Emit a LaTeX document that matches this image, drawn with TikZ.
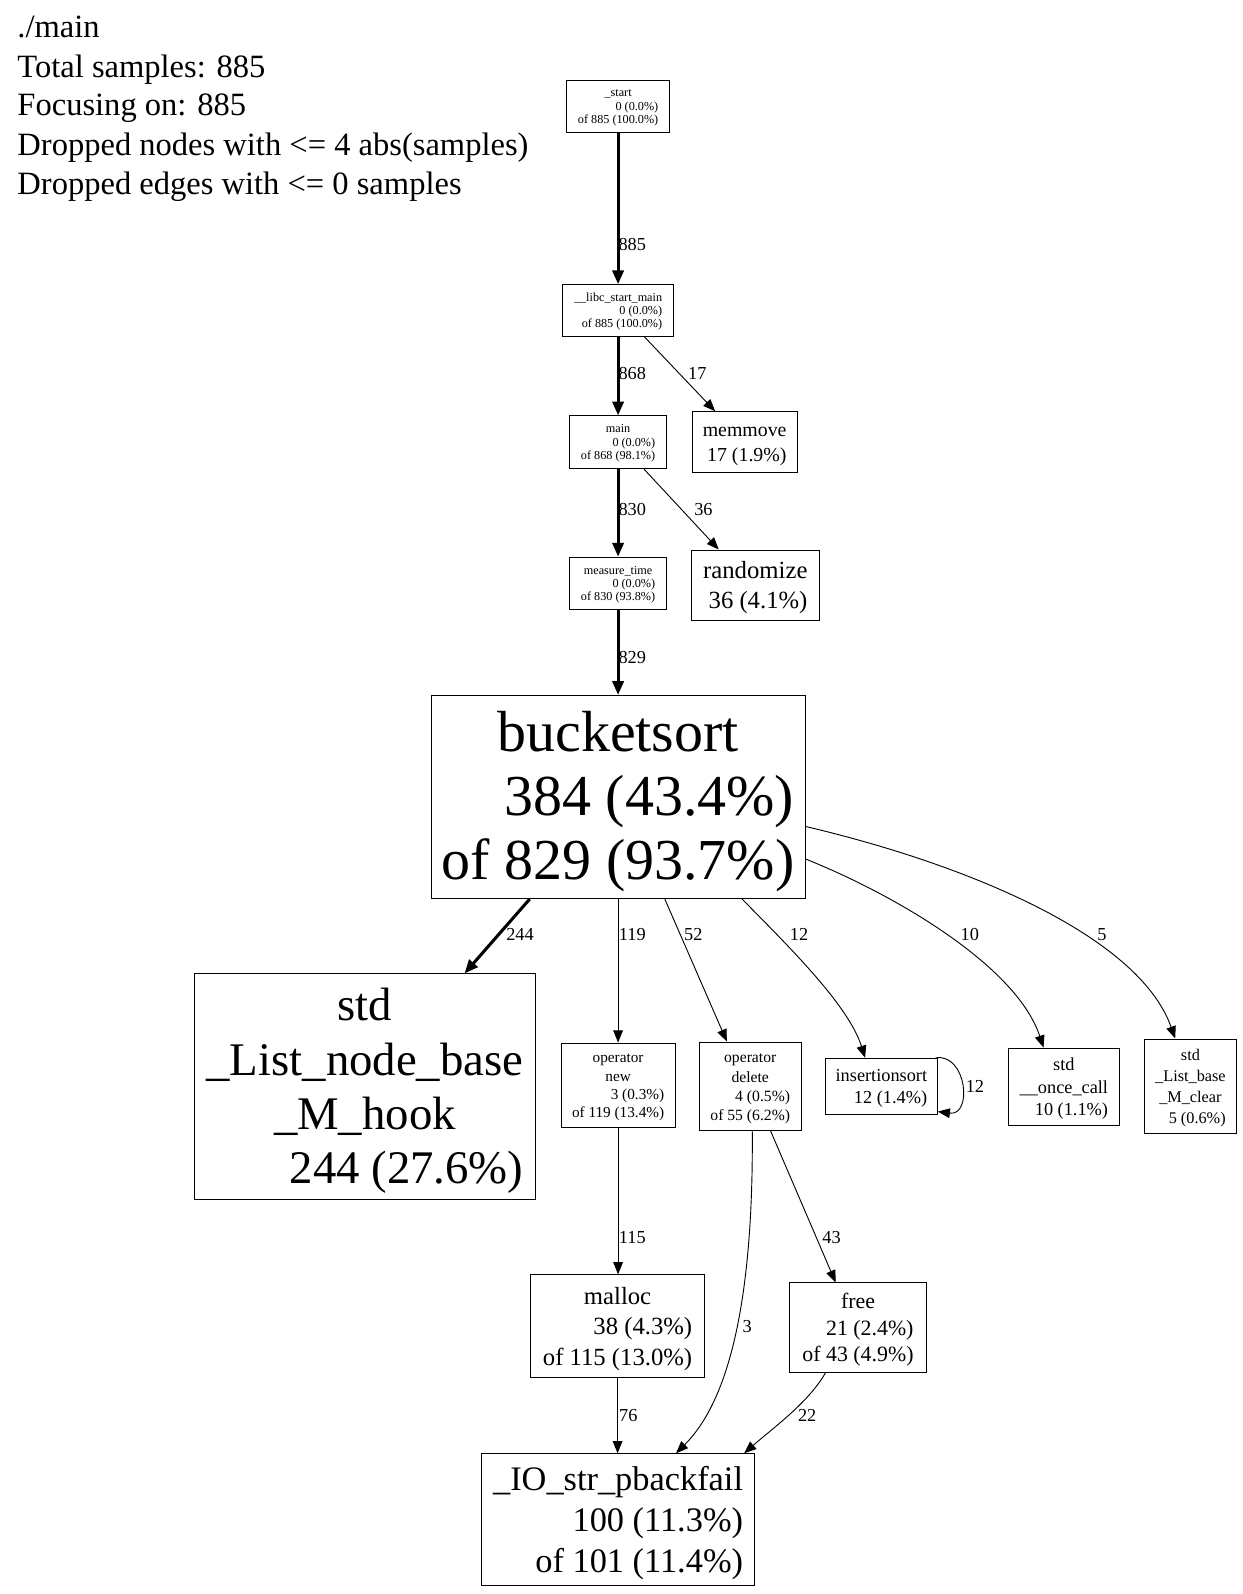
\documentclass[tikz,border=0pt]{standalone}
\usepackage{fontspec}
\setmainfont{Liberation Serif}
\usetikzlibrary{arrows.meta}
\newcommand\pname[1]{\multicolumn{1}{@{}c@{}}{#1}\\}
\newcommand\plbl[1]{\raisebox{-0.1em}[\height][\depth]{\begin{tabular}{@{}r@{}}#1\end{tabular}}}
\tikzset{
  box/.style 2 args={draw, line width=0.9pt, inner sep=0pt, minimum width=#1, minimum height=#2},
  fs/.style 2 args={font=\fontsize{#1}{#2}\selectfont},
  edge/.style={line width=0.9pt, -{Triangle[length=12pt,width=9.5pt]}},
  thickedge/.style={line width=3pt, -{Triangle[length=13.5pt,width=11pt]}},
  elab/.style={inner sep=0pt, font=\fontsize{18}{21}\selectfont},
  hdr/.style={anchor=base west, inner sep=0pt, font=\fontsize{32}{38}\selectfont}
}
\begin{document}
\begin{tikzpicture}[x=1pt,y=-1pt]
\fill[white] (0,0) rectangle (1222,1568);
\useasboundingbox (0,0) rectangle (1222,1568);

% header
\node[hdr] (h1) at (17,37) {./main};
\node[hdr] (h2) at (17,76) {Total samples: 885};
\node[hdr] (h3) at (17,114) {Focusing on: 885};
\node[hdr] (h4) at (17,153) {Dropped nodes with <= 4 abs(samples)};
\node[hdr] (h5) at (17,191) {Dropped edges with <= 0 samples};

% nodes
\node[box={101pt}{51pt}, fs={12}{13}] (start) at (608,104.5)
  {\plbl{\pname{\_start}0 (0.0\%)\\of 885 (100.0\%)}};
\node[box={109pt}{51pt}, fs={12}{13}] (libc) at (608,305.5)
  {\plbl{\pname{\_\_libc\_start\_main}0 (0.0\%)\\of 885 (100.0\%)}};
\node[box={95pt}{52pt}, fs={12}{13}] (main) at (608,435)
  {\plbl{\pname{main}0 (0.0\%)\\of 868 (98.1\%)}};
\node[box={96pt}{52pt}, fs={12}{13}] (measure) at (608,574)
  {\plbl{\pname{measure\_time}0 (0.0\%)\\of 830 (93.8\%)}};
\node[box={103pt}{60pt}, fs={19.5}{24}] (memmove) at (732.5,435)
  {\plbl{\pname{memmove}17 (1.9\%)}};
\node[box={126pt}{69pt}, fs={24.3}{30}] (randomize) at (743,575.5)
  {\plbl{\pname{randomize}36 (4.1\%)}};
\node[box={368pt}{200pt}, fs={57}{62.5}] (bucket) at (608,784)
  {\plbl{\pname{bucketsort}384 (43.4\%)\\of 829 (93.7\%)}};
\node[box={336pt}{222pt}, fs={46}{53.5}] (hook) at (359,1069)
  {\plbl{\pname{std}\pname{\_List\_node\_base}\pname{\_M\_hook}244 (27.6\%)}};
\node[box={112pt}{83pt}, fs={15}{18}] (opnew) at (608,1067.5)
  {\plbl{\pname{operator}\pname{new}3 (0.3\%)\\of 119 (13.4\%)}};
\node[box={100pt}{87pt}, fs={15.4}{19}] (opdelete) at (738,1068.5)
  {\plbl{\pname{operator}\pname{delete}4 (0.5\%)\\of 55 (6.2\%)}};
\node[box={110pt}{55pt}, fs={18}{21.5}] (insertion) at (867,1068.5)
  {\plbl{\pname{insertionsort}12 (1.4\%)}};
\node[box={109pt}{76pt}, fs={18}{22}] (once) at (1046.5,1069)
  {\plbl{\pname{std}\pname{\_\_once\_call}10 (1.1\%)}};
\node[box={90pt}{93pt}, fs={16}{20.7}] (clear) at (1171,1068.5)
  {\plbl{\pname{std}\pname{\_List\_base}\pname{\_M\_clear}5 (0.6\%)}};
\node[box={171pt}{101pt}, fs={24.3}{30}] (malloc) at (607.5,1304.5)
  {\plbl{\pname{malloc}38 (4.3\%)\\of 115 (13.0\%)}};
\node[box={134pt}{88pt}, fs={21.5}{26}] (free) at (844,1306)
  {\plbl{\pname{free}21 (2.4\%)\\of 43 (4.9\%)}};
\node[box={268pt}{130pt}, fs={33.8}{40}] (IO) at (608,1495)
  {\plbl{\pname{\_IO\_str\_pbackfail}100 (11.3\%)\\of 101 (11.4\%)}};

% edges
\draw[thickedge] (start) -- (libc);
\draw[thickedge] (libc) -- (main);
\draw[edge] ([xshift=26pt]libc.south) -- ([xshift=-29pt]memmove.north);
\draw[thickedge] (main) -- (measure);
\draw[edge] ([xshift=25.5pt]main.south) -- ([xshift=-36pt]randomize.north);
\draw[thickedge] (measure) -- (bucket);
\draw[thickedge] ([xshift=-87pt]bucket.south) -- ([xshift=98pt]hook.north);
\draw[edge] (bucket.south) -- (opnew.north);
\draw[edge] ([xshift=46pt]bucket.south) -- ([xshift=-23pt]opdelete.north);
\draw[edge] ([xshift=122pt]bucket.south) .. controls (780,935) and (835,990) .. ([xshift=-16pt]insertion.north);
\draw[edge] ([yshift=-61pt]bucket.east) .. controls (880,880) and (1000,950) .. ([xshift=-20pt]once.north);
\draw[edge] ([yshift=-29pt]bucket.east) .. controls (950,850) and (1120,920) .. ([xshift=-15pt]clear.north);
\draw[edge] ([xshift=-2pt]insertion.north east) .. controls (951,1036) and (957,1098) .. ([yshift=3pt]insertion.south east);
\draw[edge] (opnew.south) -- (malloc.north -| opnew.south);
\draw[edge] ([xshift=20pt]opdelete.south) -- ([xshift=-22pt]free.north);
\draw[edge] ([xshift=2pt]opdelete.south) .. controls (741,1250) and (725,1370) .. ([xshift=57pt]IO.north);
\draw[edge] (malloc.south) -- (IO.north -| malloc.south);
\draw[edge] ([xshift=-32pt]free.south) .. controls (795,1380) and (760,1405) .. ([xshift=124pt]IO.north);

% edge labels
\node[elab] (l885) at (622,241) {885};
\node[elab] (l868) at (622,367) {868};
\node[elab] (l17) at (686,367) {17};
\node[elab] (l830) at (622,501) {830};
\node[elab] (l36) at (692,501) {36};
\node[elab] (l829) at (622,647) {829};
\node[elab] (l244) at (511.5,919) {244};
\node[elab] (l119) at (622,919) {119};
\node[elab] (l52) at (682,919) {52};
\node[elab] (l12a) at (786,919) {12};
\node[elab] (l10) at (954,919) {10};
\node[elab] (l5) at (1084,919) {5};
\node[elab] (l12b) at (959,1069) {12};
\node[elab] (l115) at (622,1217) {115};
\node[elab] (l43) at (818,1217) {43};
\node[elab] (l3) at (735,1305) {3};
\node[elab] (l76) at (618,1392) {76};
\node[elab] (l22) at (794,1392) {22};
\end{tikzpicture}
\end{document}
